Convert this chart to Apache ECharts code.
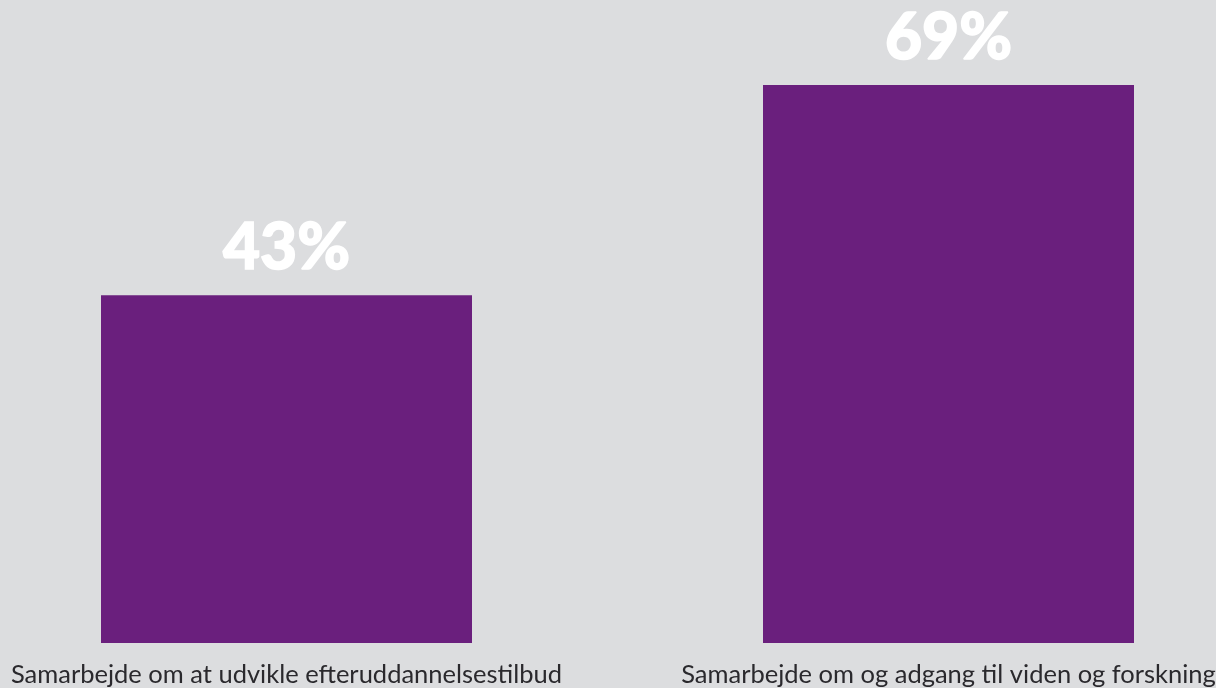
<!DOCTYPE html>
<html>
<head>
<meta charset="utf-8">
<script src="https://cdn.jsdelivr.net/npm/echarts@6/dist/echarts.min.js"></script>
<style>
  html, body { margin: 0; padding: 0; background: #dcdddf; }
  #chart { width: 1216px; height: 688px; }
</style>
</head>
<body>
<div id="chart"></div>
<script>
// Categories and shares (%)
const categories = [
  'Samarbejde om at udvikle efteruddannelsestilbud',
  'Samarbejde om og adgang til viden og forskning'
];
const shares = [43, 69];

const chart = echarts.init(document.getElementById('chart'));
chart.setOption({
  backgroundColor: '#dcdddf',
  animation: false,
  grid: { left: 286.5, right: 267.5, top: 77, bottom: 45, outerBoundsMode: 'none', containLabel: false },
  xAxis: {
    type: 'category',
    data: categories,
    boundaryGap: false,
    axisLine: { show: false },
    axisTick: { show: false },
    axisLabel: {
      interval: 0,
      hideOverlap: false,
      showMinLabel: true,
      showMaxLabel: true,
      margin: 19,
      fontFamily: 'Lato',
      fontSize: 25.5,
      color: '#2a292d'
    }
  },
  yAxis: { type: 'value', min: 0, max: 70, show: false, splitLine: { show: false } },
  series: [{
    type: 'bar',
    data: shares,
    barWidth: 371,
    clip: false,
    itemStyle: { color: '#6a1f7d' },
    label: {
      show: true,
      position: 'top',
      distance: 15,
      formatter: '{c}%',
      color: '#ffffff',
      fontFamily: 'Lato',
      fontWeight: 900,
      fontSize: 64,
      textBorderColor: '#ffffff',
      textBorderWidth: 1.5
    }
  }]
});
</script>
</body>
</html>
